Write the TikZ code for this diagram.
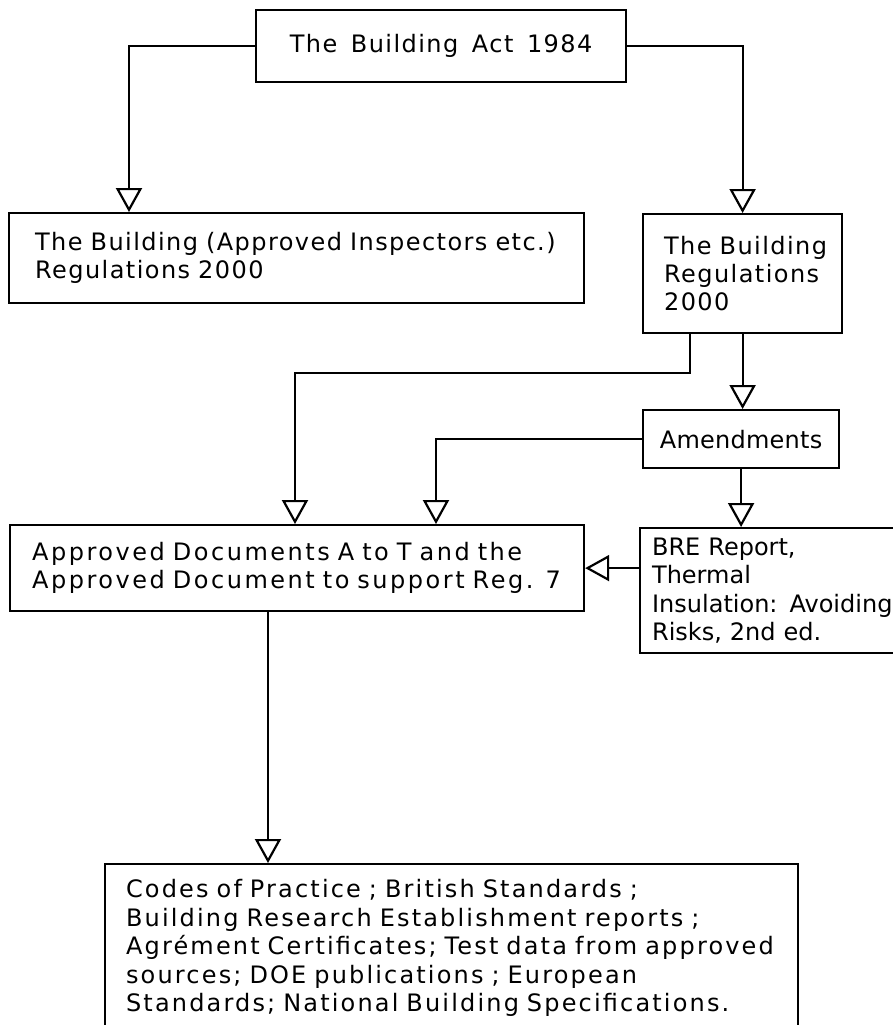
\documentclass[tikz,border=0pt]{standalone}
\usepackage{fontspec}
\setmainfont[LetterSpace=6,WordSpace=1.5]{DejaVu Sans}
\usetikzlibrary{arrows.meta,positioning,calc}
\newcommand{\tline}[1]{\mbox{#1}}
\tikzset{
  blk/.style={draw,rectangle,line width=1.1pt,anchor=north west,inner ysep=0pt,font=\fontsize{12}{14.2}\selectfont},
  lblk/.style={blk,align=left},
  trk/.style={font=\fontsize{12}{14.2}\selectfont\addfontfeatures{LetterSpace=#1}},
  arr/.style={-{Triangle[open,length=12pt,width=13pt]},line width=1.1pt}
}
\begin{document}
\begin{tikzpicture}[x=0.5pt,y=-0.5pt]
  \useasboundingbox (0,0) rectangle (893,1025);
  % boxes
  \node[blk,minimum width=185pt,minimum height=36pt,align=center] (act) at (255,9) {The Building Act 1984};
  \node[lblk,inner xsep=13pt,text width=261.5pt,minimum height=45pt] (insp) at (8,212) {\tline{The Building (Approved Inspectors etc.)}\\Regulations 2000};
  \node[lblk,inner xsep=10.5pt,text width=78.5pt,minimum height=59.5pt] (regs) at (642,213) {\tline{The Building}\\Regulations\\2000};
  \node[blk,trk=1,minimum width=98pt,minimum height=29pt,align=center] (amend) at (642,409) {Amendments};
  \node[lblk,trk=10.5,inner xsep=11pt,text width=265pt,minimum height=43pt] (appr) at (9,524) {\tline{Approved Documents A to T and the}\\\tline{Approved Document to support Reg. 7}};
  \node[lblk,trk=0,inner xsep=6pt,text width=123pt,minimum height=62.5pt] (bre) at (639,527) {\tline{BRE Report,}\\Thermal\\\tline{Insulation: Avoiding}\\\tline{Risks, 2nd ed.}};
  \node[lblk,font=\fontsize{12}{14.3}\selectfont\addfontfeatures{LetterSpace=9},inner xsep=10.5pt,text width=325.5pt,minimum height=84pt] (codes) at (104,863) {\tline{Codes of Practice ; British Standards ;}\\\tline{Building Research Establishment reports ;}\\\tline{Agrément Certificates; Test data from approved}\\\tline{sources; DOE publications ; European}\\\tline{Standards; National Building Specifications.}};

  % drop points
  \coordinate (dl) at (129,0);
  \coordinate (r1) at (690,373);
  \coordinate (a1) at (295,0);
  \coordinate (a2) at (436,0);
  \coordinate (a3) at (268,0);

  % connectors
  \draw[arr] (act.west) -| (insp.north -| dl);
  \draw[arr] (act.east) -| (regs.north);
  \draw[arr] (regs.south -| r1) |- (r1 -| a1) -- (appr.north -| a1);
  \draw[arr] (regs.south) -- (regs.south |- amend.north);
  \draw[arr] (amend.west) -| (appr.north -| a2);
  \draw[arr] (amend.south) -- (amend.south |- bre.north);
  \draw[arr] (bre.west |- appr.east) -- (appr.east);
  \draw[arr] (appr.south -| a3) -- (codes.north -| a3);
\end{tikzpicture}
\end{document}
